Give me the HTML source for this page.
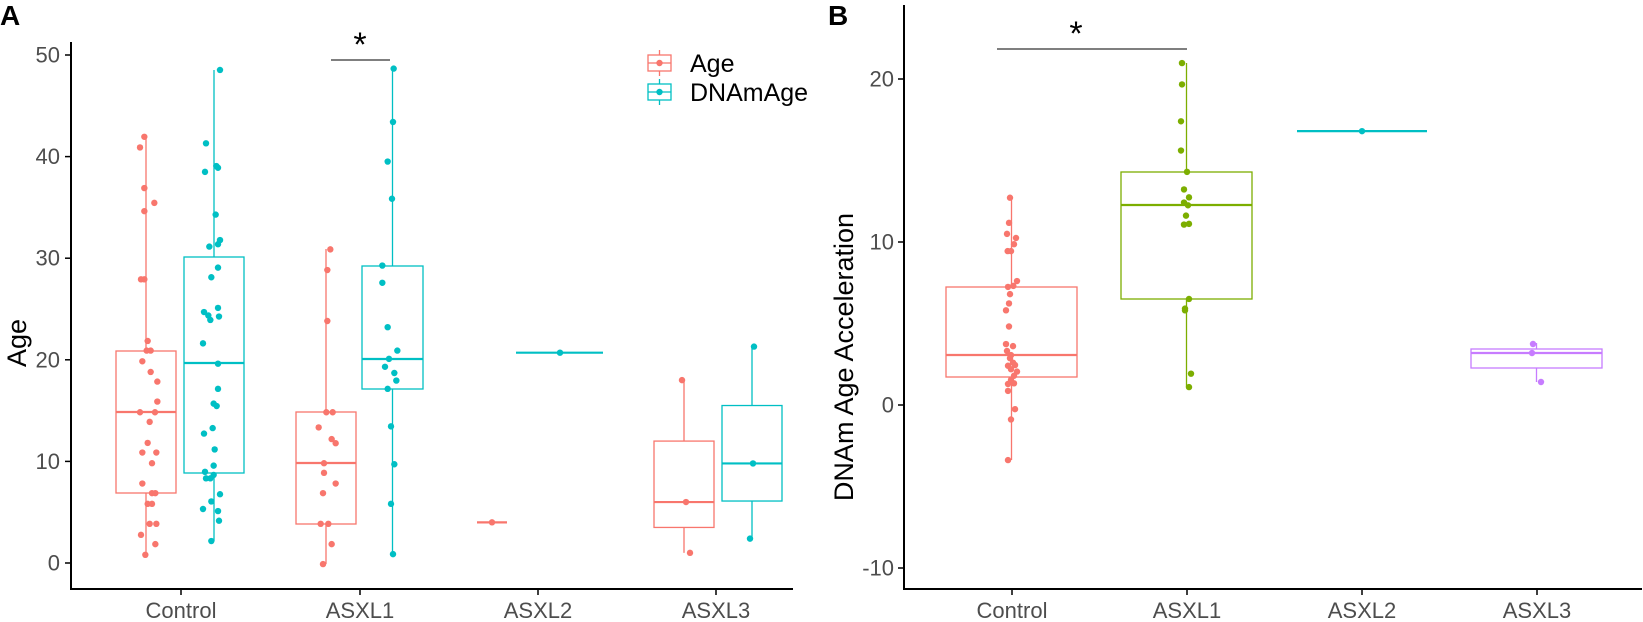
<!DOCTYPE html>
<html><head><meta charset="utf-8"><style>
html,body{margin:0;padding:0;background:#fff;}
svg{display:block;font-family:"Liberation Sans",sans-serif;}
</style></head><body>
<svg id="s" width="1643" height="622" xmlns="http://www.w3.org/2000/svg">
<text x="0" y="25" font-size="28" font-weight="bold">A</text>
<text x="828" y="25" font-size="28" font-weight="bold">B</text>
<text transform="translate(26,343) rotate(-90)" font-size="27" text-anchor="middle">Age</text>
<text transform="translate(853,357) rotate(-90)" font-size="27" text-anchor="middle">DNAm Age Acceleration</text>
<g id="g"></g>
</svg>
<script>
var g=document.getElementById('g'),h='';
var R='#F8766D',T='#00BFC4',G='#7CAE00',P='#C77CFF';
function L(x1,y1,x2,y2,c,w){h+='<line x1="'+x1+'" y1="'+y1+'" x2="'+x2+'" y2="'+y2+'" stroke="'+c+'" stroke-width="'+(w||1.3)+'"/>';}
function C(x,y,c){h+='<circle cx="'+x+'" cy="'+y+'" r="3.2" fill="'+c+'"/>';}
function Tx(x,y,t,s,a,c){h+='<text x="'+x+'" y="'+y+'" font-size="'+s+'" text-anchor="'+a+'" fill="'+(c||'#4d4d4d')+'">'+t+'</text>';}
function box(x1,x2,q3,md,q1,top,bot,c){var xm=(x1+x2)/2;
 L(xm,top,xm,q3,c);L(xm,q1,xm,bot,c);
 h+='<rect x="'+x1+'" y="'+q3+'" width="'+(x2-x1)+'" height="'+(q1-q3)+'" fill="none" stroke="'+c+'" stroke-width="1.3"/>';
 L(x1,md,x2,md,c,2.2);}
var ya=function(v){return 563-10.16*v;};
L(71,42,71,590,'#000',2);L(70,589,793,589,'#000',2);
for(var v=0;v<=50;v+=10){L(65,ya(v),71,ya(v),'#000',1.5);Tx(60,ya(v)+7.5,v,22,'end');}
var ca=[181,360,538,716],la=['Control','ASXL1','ASXL2','ASXL3'];
ca.forEach(function(x,i){L(x,589,x,595,'#000',1.5);Tx(x,618,la[i],22,'middle');});
function zp(a,c){for(var i=0;i<a.length;i++)C(60+a[i][0]/3,40+a[i][1]/2.904,c);}
box(116,176,351,412,493,137,555,R);
box(184,244,257,363,473,70,541,T);
box(296,356,412,463,524,249,564,R);
box(362,423,266,359,389,69,554,T);
zp([[253,281],[240,312],[253,430],[283,473],[253,497],[243,695],[253,695],[263,874],[260,902],[272,902],[247,933],[272,964],[292,992],[292,1050],[240,1081],[285,1081],[269,1109],[263,1170],[247,1198],[289,1198],[276,1229],[247,1288],[276,1316],[286,1316],[263,1347],[276,1347],[269,1405],[289,1405],[243,1437],[286,1464],[256,1495]],R);
zp([[480,87],[438,300],[435,383],[469,366],[474,371],[467,507],[480,581],[474,593],[448,600],[474,661],[454,689],[474,778],[432,790],[445,800],[451,813],[477,803],[429,881],[474,940],[474,1013],[461,1056],[470,1063],[458,1127],[432,1143],[464,1189],[461,1236],[435,1254],[461,1263],[438,1273],[451,1273],[480,1319],[454,1340],[429,1362],[474,1368],[477,1396],[454,1455]],T);
zp([[811,608],[802,668],[802,816],[799,1081],[818,1081],[776,1125],[815,1159],[827,1171],[792,1229],[792,1257],[827,1288],[789,1316],[782,1405],[805,1405],[815,1464],[789,1522]],R);
zp([[1001,83],[999,238],[983,353],[996,461],[967,655],[967,705],[983,834],[1012,902],[987,926],[975,949],[1003,967],[1009,989],[983,1013],[993,1122],[1003,1232],[993,1347],[999,1493]],T);
L(477,ya(4),507,ya(4),R,2.2);C(492,ya(4),R);
L(516,ya(20.7),603,ya(20.7),T,2.2);C(560,ya(20.7),T);
box(654,714,ya(12),ya(6),ya(3.5),ya(18),ya(1),R);
C(682,ya(18),R);C(686,ya(6),R);C(690,ya(1),R);
box(722,782,ya(15.5),ya(9.8),ya(6.1),ya(21.3),ya(2.4),T);
C(754,ya(21.3),T);C(753,ya(9.8),T);C(750,ya(2.4),T);
L(331,60,390,60,'#333',1.2);Tx(360,56,'*',34,'middle','#000');
function key(y,c){h+='<rect x="648" y="'+(y-8)+'" width="23" height="16" fill="none" stroke="'+c+'" stroke-width="1.3"/>';L(659.5,y-13,659.5,y-8,c);L(659.5,y+8,659.5,y+13,c);L(648,y,671,y,c,1.3);C(659.5,y,c);}
key(63,R);key(92,T);
Tx(690,72,'Age',25,'start','#000');Tx(690,101,'DNAmAge',25,'start','#000');
var yb=function(v){return 405-16.3*v;};
L(904,5,904,590,'#000',2);L(903,589,1642,589,'#000',2);
[20,10,0,-10].forEach(function(v){L(898,yb(v),904,yb(v),'#000',1.5);Tx(894,yb(v)+7.5,v,22,'end');});
var cb=[1012,1187,1362,1537];
cb.forEach(function(x,i){L(x,589,x,595,'#000',1.5);Tx(x,618,la[i],22,'middle');});
function zb(a,c){for(var i=0;i<a.length;i++)C(900+a[i][0]/3,40+a[i][1]/2.904,c);}
box(946,1077,287,355,377,198,460,R);
box(1121,1252,172,205,299,63,387,G);
zb([[330,458],[327,531],[321,563],[348,575],[342,593],[323,613],[333,613],[351,700],[324,717],[340,714],[330,738],[327,765],[318,785],[327,832],[318,883],[339,889],[321,903],[333,915],[330,924],[339,937],[324,946],[345,944],[333,956],[351,963],[342,975],[333,987],[324,999],[342,997],[324,1019],[345,1072],[333,1102],[324,1220]],R);
zb([[846,67],[846,129],[843,236],[843,321],[861,383],[852,434],[867,457],[852,472],[864,480],[858,510],[852,536],[867,534],[867,752],[855,780],[855,785],[873,969],[867,1008]],G);
L(1297,yb(16.8),1427,yb(16.8),T,2.2);C(1362,yb(16.8),T);
box(1471,1602,349,353,368,343,382,P);
C(1533,344,P);C(1532,353,P);C(1541,382,P);
L(997,49,1187,49,'#333',1.2);Tx(1076,45,'*',34,'middle','#000');
g.innerHTML=h;
</script>
</body></html>
